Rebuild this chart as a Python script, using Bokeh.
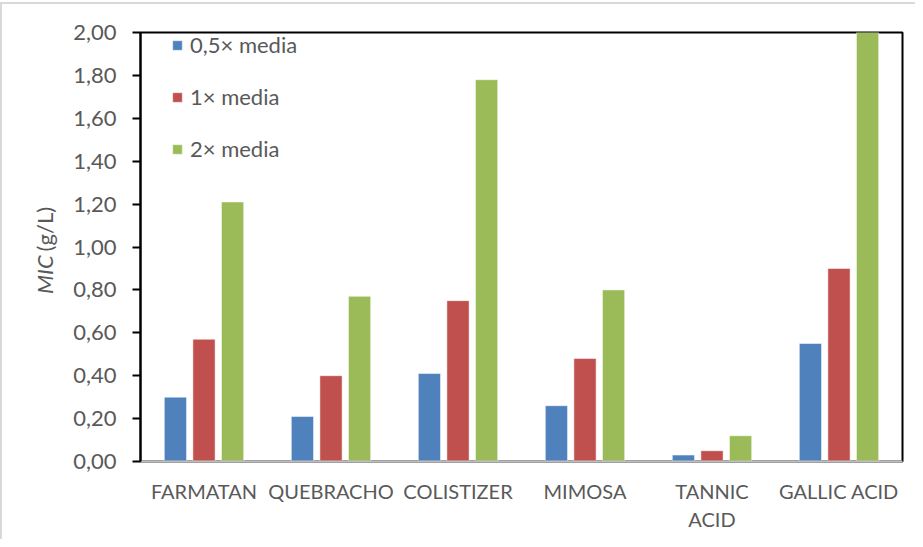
from bokeh.plotting import figure
from bokeh.layouts import row
from bokeh.models import ColumnDataSource, FactorRange, Legend, LegendItem, FixedTicker
from bokeh.transform import dodge
from bokeh.embed import file_html
from bokeh.resources import INLINE
from bokeh.core.properties import value
import math

categories = ["FARMATAN", "QUEBRACHO", "COLISTIZER", "MIMOSA", "TANNIC\nACID", "GALLIC ACID"]
series_names = ["0,5× media", "1× media", "2× media"]
half_media = [0.30, 0.21, 0.41, 0.26, 0.03, 0.55]
one_media = [0.57, 0.40, 0.75, 0.48, 0.05, 0.90]
two_media = [1.21, 0.77, 1.78, 0.80, 0.12, 2.00]
y_ticks = [0.0, 0.2, 0.4, 0.6, 0.8, 1.0, 1.2, 1.4, 1.6, 1.8, 2.0]
y_tick_labels = ["0,00", "0,20", "0,40", "0,60", "0,80", "1,00", "1,20", "1,40", "1,60", "1,80", "2,00"]
y_title_parts = ["MIC", "(g/L)"]

colors = ["#4F81BD", "#C0504D", "#9BBB59"]
FONT = "Lato"
TXT = "#595959"
H = 539
LW = 70

# left strip holding the y-axis title (mixed italic / upright)
lf = figure(width=LW, height=H, x_range=(0, LW), y_range=(H, 0), output_backend="svg",
            toolbar_location=None, x_axis_type=None, y_axis_type=None,
            min_border=0, min_border_left=0, min_border_right=0, min_border_top=0, min_border_bottom=0)
lf.outline_line_color = None
lf.background_fill_color = None
lf.border_fill_color = None
lf.xgrid.visible = False
lf.ygrid.visible = False
lf.text(x=[44], y=[280], text=[y_title_parts[0]], angle=math.pi / 2, text_align="right",
        text_baseline="middle", text_font=value(FONT), text_font_style="italic",
        text_font_size="22px", text_color=TXT)
lf.text(x=[44], y=[275], text=[y_title_parts[1]], angle=math.pi / 2, text_align="left",
        text_baseline="middle", text_font=value(FONT), text_font_size="22px", text_color=TXT)

src = ColumnDataSource(dict(cat=categories, a=half_media, b=one_media, c=two_media))

p = figure(x_range=FactorRange(*categories, range_padding=0), y_range=(0, 2.0),
           width=915 - LW, height=H, output_backend="svg", toolbar_location=None,
           min_border_left=139 - LW, min_border_right=13, min_border_top=32, min_border_bottom=78)
p.border_fill_color = None
p.background_fill_color = "white"
p.outline_line_color = "black"
p.outline_line_width = 2
p.xgrid.visible = False
p.ygrid.visible = False

r = []
for key, off, col in zip(["a", "b", "c"], [-0.225, 0.0, 0.225], colors):
    r.append(p.vbar(x=dodge("cat", off, range=p.x_range), top=key, width=0.175, source=src,
                    fill_color=col, line_color="white", line_alpha=0.5, line_width=1))

p.yaxis.ticker = FixedTicker(ticks=y_ticks)
p.yaxis.major_label_overrides = {t: l for t, l in zip(y_ticks, y_tick_labels)}
p.yaxis.axis_line_color = "black"
p.yaxis.axis_line_width = 2
p.yaxis.major_tick_line_color = "black"
p.yaxis.major_tick_line_width = 2
p.yaxis.major_tick_out = 8
p.yaxis.major_tick_in = 0
p.yaxis.minor_tick_line_color = None
p.yaxis.major_label_text_font = FONT
p.yaxis.major_label_text_font_size = "22px"
p.yaxis.major_label_text_color = TXT
p.yaxis.major_label_standoff = 16

p.xaxis.axis_line_color = "#BFBFBF"
p.xaxis.axis_line_width = 2
p.xaxis.major_tick_line_color = None
p.xaxis.minor_tick_line_color = None
p.xaxis.major_label_text_font = FONT
p.xaxis.major_label_text_font_size = "20px"
p.xaxis.major_label_text_color = TXT
p.xaxis.major_label_standoff = 11

legend = Legend(items=[LegendItem(label=n, renderers=[rr]) for n, rr in zip(series_names, r)],
                location=(31, 299), orientation="vertical")
legend.padding = 0
legend.margin = 0
legend.border_line_color = None
legend.background_fill_alpha = 0
legend.glyph_width = 12
legend.glyph_height = 12
legend.label_height = 27
legend.spacing = 25
legend.label_standoff = 7
legend.label_text_font = FONT
legend.label_text_font_size = "22px"
legend.label_text_color = TXT
p.add_layout(legend)

layout = row(lf, p, spacing=0,
             styles={"box-shadow": "inset 0 2px 0 0 white, inset 2px 4px 0 0 #d9d9d9"})

open("out.html", "w").write(file_html(layout, INLINE))
